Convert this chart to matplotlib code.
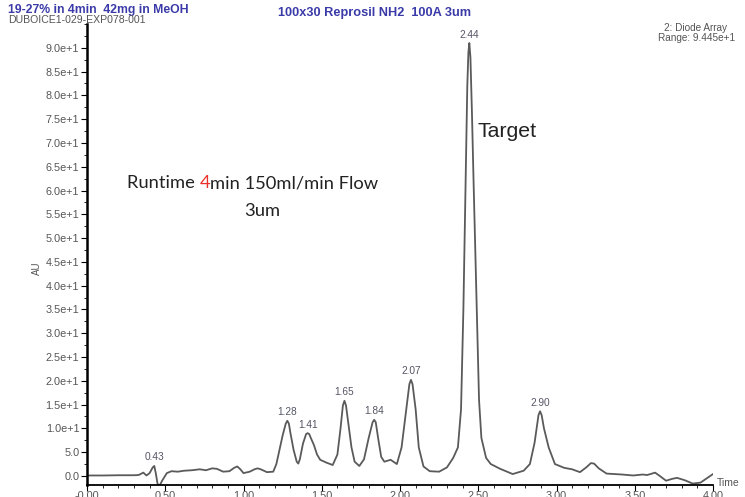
import numpy as np
import matplotlib
matplotlib.use('Agg')
import matplotlib.pyplot as plt
from matplotlib.ticker import MultipleLocator, FixedLocator

# Trace (time in min, AU)
time_min = [0.00, 0.10, 0.20, 0.30, 0.33, 0.36, 0.38, 0.40, 0.42, 0.43, 0.44, 0.45, 0.46, 0.48,
            0.51, 0.54, 0.58, 0.62, 0.67, 0.72, 0.76, 0.80, 0.83, 0.87, 0.91, 0.94, 0.96, 0.98,
            1.00, 1.04, 1.07, 1.09, 1.11, 1.15, 1.19, 1.21, 1.23, 1.25, 1.27, 1.28, 1.29, 1.30,
            1.32, 1.34, 1.35, 1.36, 1.38, 1.40, 1.41, 1.42, 1.43, 1.45, 1.47, 1.49, 1.53, 1.57,
            1.60, 1.62, 1.635, 1.645, 1.655, 1.67, 1.69, 1.71, 1.74, 1.77, 1.80, 1.825, 1.835,
            1.845, 1.86, 1.88, 1.90, 1.94, 1.98, 2.01, 2.04, 2.06, 2.07, 2.08, 2.10, 2.12, 2.15,
            2.19, 2.25, 2.30, 2.34, 2.37, 2.39, 2.405, 2.42, 2.43, 2.437, 2.443, 2.45, 2.46,
            2.47, 2.49, 2.505, 2.52, 2.55, 2.58, 2.64, 2.72, 2.79, 2.83, 2.86, 2.885, 2.895,
            2.905, 2.92, 2.95, 2.99, 3.05, 3.10, 3.15, 3.19, 3.22, 3.24, 3.27, 3.32, 3.42, 3.49,
            3.55, 3.58, 3.63, 3.66, 3.70, 3.74, 3.77, 3.82, 3.87, 3.92, 3.96, 4.00]
au = [0.1, 0.1, 0.15, 0.15, 0.2, 0.7, 0.1, 0.6, 1.8, 2.1, 0.5, -1.5, -2.3, -1.0,
      0.6, 1.0, 0.9, 1.1, 1.2, 1.4, 1.2, 1.6, 1.5, 0.9, 1.0, 1.7, 2.0, 1.4,
      0.6, 0.9, 1.4, 1.6, 1.4, 0.8, 0.9, 2.5, 5.5, 8.5, 11.0, 11.6, 11.0, 9.0,
      5.5, 3.0, 2.6, 3.5, 6.8, 8.8, 9.0, 8.8, 8.0, 6.5, 4.5, 3.4, 2.8, 2.3,
      4.5, 10.0, 14.8, 15.8, 14.8, 11.0, 6.0, 3.0, 2.1, 3.5, 8.0, 11.3, 11.8,
      11.3, 8.0, 4.0, 3.0, 3.4, 2.5, 6.0, 14.0, 19.3, 20.2, 19.3, 14.0, 6.0, 2.0,
      1.0, 0.9, 1.8, 3.8, 6.0, 14.0, 35.0, 63.0, 82.0, 89.0, 91.0, 88.0, 76.0,
      62.0, 36.0, 16.0, 8.0, 3.8, 2.5, 1.5, 0.4, 1.1, 2.5, 7.0, 12.8, 13.6,
      12.8, 10.0, 6.0, 2.5, 1.7, 1.4, 0.8, 1.8, 2.7, 2.6, 1.6, 0.5, 0.3, 0.1,
      0.3, 0.2, 0.7, 0.0, -1.0, -0.6, -0.4, -0.9, -1.6, -1.4, -0.5, 0.4]

peak_times = [0.43, 1.28, 1.41, 1.645, 1.835, 2.07, 2.443, 2.895]
peak_labels = ['0.43', '1.28', '1.41', '1.65', '1.84', '2.07', '2.44', '2.90']

y_ticks = [0, 5, 10, 15, 20, 25, 30, 35, 40, 45, 50, 55, 60, 65, 70, 75, 80, 85, 90]
y_ticklabels = ['0.0', '5.0', '1.0e+1', '1.5e+1', '2.0e+1', '2.5e+1', '3.0e+1', '3.5e+1',
                '4.0e+1', '4.5e+1', '5.0e+1', '5.5e+1', '6.0e+1', '6.5e+1', '7.0e+1',
                '7.5e+1', '8.0e+1', '8.5e+1', '9.0e+1']
x_ticks = [0.0, 0.5, 1.0, 1.5, 2.0, 2.5, 3.0, 3.5, 4.0]
x_ticklabels = ['-0.00', '0.50', '1.00', '1.50', '2.00', '2.50', '3.00', '3.50', '4.00']

runtime_parts = ['Runtime ', '4', 'min 150ml/min Flow']
runtime_colors = ['#222222', '#e8312a', '#222222']

W, H = 745, 497
fig = plt.figure(figsize=(W / 100, H / 100), dpi=100)
ax = fig.add_axes([87 / W, 1 - 485 / H, 626 / W, 461 / H])

ax.plot(time_min, au, color='#5a5a5a', lw=1.3)
ax.set_xlim(0, 4.0)
ax.set_ylim(-1.9, 95)

for s in ['top', 'right']:
    ax.spines[s].set_visible(False)
ax.spines['left'].set_linewidth(1.8)
ax.spines['bottom'].set_linewidth(1.3)

ax.yaxis.set_major_locator(FixedLocator(y_ticks))
ax.set_yticklabels(y_ticklabels)
ax.yaxis.set_minor_locator(MultipleLocator(2.5))
ax.xaxis.set_major_locator(FixedLocator(x_ticks))
ax.set_xticklabels(x_ticklabels)
ax.xaxis.set_minor_locator(MultipleLocator(0.1))
ax.tick_params(axis='both', which='major', length=4, width=0.8, labelsize=7.8,
               labelcolor='#555555', pad=1.5)
ax.tick_params(axis='x', which='major', pad=0.5)
ax.tick_params(axis='both', which='minor', length=2, width=0.6)
for lab in ax.get_xticklabels() + ax.get_yticklabels():
    lab.set_family('Liberation Sans')

# peak labels
t_arr = np.array(time_min)
a_arr = np.array(au)
for pt, lab in zip(peak_times, peak_labels):
    i = np.argmin(np.abs(t_arr - pt))
    ax.annotate(lab, (t_arr[i], a_arr[i]), xytext=(0, 2.5), textcoords='offset points',
                ha='center', va='bottom', fontsize=7.3, color='#555566',
                family='Liberation Sans')

# header texts
blue = '#3a3aa8'
fig.text(8 / W, 1 - 10 / H, '19-27% in 4min  42mg in MeOH', fontsize=8.8, weight='bold',
         color=blue, family='Liberation Sans', va='center')
fig.text(8 / W, 1 - 20 / H, 'DUBOICE1-029-EXP078-001', fontsize=7.6, color='#555555',
         family='Liberation Sans', va='center')
fig.text(278 / W, 1 - 13 / H, '100x30 Reprosil NH2  100A 3um', fontsize=9.2, weight='bold',
         color=blue, family='Liberation Sans', va='center')
fig.text(664 / W, 1 - 28 / H, '2: Diode Array', fontsize=7.2, color='#555555',
         family='Liberation Sans', va='center')
fig.text(658 / W, 1 - 38 / H, 'Range: 9.445e+1', fontsize=7.2, color='#555555',
         family='Liberation Sans', va='center')
fig.text(37 / W, 1 - 268 / H, 'AU', fontsize=7, color='#555555', rotation=90,
         family='Liberation Sans', va='center', ha='center')
fig.text(717 / W, 1 - 483 / H, 'Time', fontsize=7.5, color='#555555',
         family='Liberation Sans', va='center')

# annotations in the plot
fig.text(477 / W, 1 - 131 / H, 'Target', fontsize=15.3, color='#222222',
         family='Liberation Sans', va='center')

fig.canvas.draw()
r = fig.canvas.get_renderer()
x = 127
for part, col in zip(runtime_parts, runtime_colors):
    t = fig.text(x / W, 1 - 183 / H, part, fontsize=13.2, color=col, family='Lato',
                 va='center')
    x = t.get_window_extent(r).x1
fig.text(262 / W, 1 - 211 / H, '3um', fontsize=13.2, color='#222222', family='Lato',
         va='center', ha='center')

fig.savefig('out.png', dpi=100)
